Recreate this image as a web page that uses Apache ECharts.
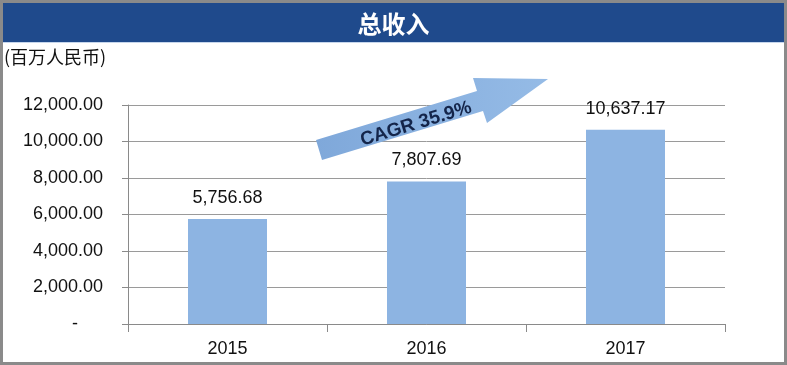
<!DOCTYPE html>
<html><head><meta charset="utf-8">
<script src="https://cdn.jsdelivr.net/npm/echarts@6/dist/echarts.min.js"></script>
<style>html,body{margin:0;padding:0;background:#fff}#c{width:787px;height:365px}</style>
</head><body><div id="c"></div>
<script>
const categories = ['2015', '2016', '2017'];
const revenue = [5756.68, 7807.69, 10637.17];
const yTicks = [0, 2000, 4000, 6000, 8000, 10000, 12000];
const titleText = '总收入';
const unitText = '(百万人民币)';
const cagrText = 'CAGR 35.9%';

function fmt(v) {
  if (v === 0) return '-     ';
  return v.toLocaleString('en-US', {minimumFractionDigits: 2, maximumFractionDigits: 2});
}

const chart = echarts.init(document.getElementById('c'));
chart.setOption({
  animation: false,
  backgroundColor: '#fff',
  title: {
    text: titleText, left: 'center', top: 7,
    textStyle: {color: '#fff', fontSize: 24, fontWeight: 'bold', fontFamily: 'Noto Sans CJK SC'}
  },
  grid: {left: 128, right: 62, top: 105, bottom: 41},
  xAxis: {
    type: 'category', data: categories,
    axisLine: {lineStyle: {color: '#8a8a8a', width: 1}},
    axisTick: {show: true, length: 8, lineStyle: {color: '#8a8a8a'}},
    axisLabel: {color: '#111', fontSize: 18, margin: 16, fontFamily: 'Liberation Sans'}
  },
  yAxis: {
    type: 'value', min: yTicks[0], max: yTicks[yTicks.length - 1], interval: 2000,
    axisLine: {show: true, lineStyle: {color: '#8a8a8a'}},
    axisTick: {show: true, length: 6, lineStyle: {color: '#8a8a8a'}},
    splitLine: {lineStyle: {color: '#9a9a9a', width: 1}},
    axisLabel: {color: '#111', fontSize: 18, margin: 25, fontFamily: 'Liberation Sans', formatter: fmt}
  },
  series: [{
    type: 'bar', data: revenue, barWidth: 79,
    itemStyle: {color: '#8db4e2'},
    label: {show: true, position: 'top', distance: 12, color: '#111', fontSize: 18,
      fontFamily: 'Liberation Sans', formatter: p => fmt(p.value)}
  }],
  graphic: [
    {type: 'rect', z: -1, shape: {x: 0, y: 0, width: 787, height: 365},
      style: {fill: 'none', stroke: '#8a8a8a', lineWidth: 6}},
    {type: 'rect', z: 0, shape: {x: 3, y: 3, width: 781, height: 39},
      style: {fill: '#1f4a8c'}},
    {type: 'rect', z: 0, shape: {x: 3, y: 42, width: 781, height: 1},
      style: {fill: '#c6d6ec'}},
    {type: 'text', left: 4, top: 48, z: 10,
      style: {text: unitText, fontSize: 18, fill: '#111', fontFamily: 'Noto Sans CJK SC'}},
    {type: 'polygon', z: 10,
      shape: {points: [[316,140],[477,91],[473,78],[548,79],[487,123],[483,111],[322,160]]},
      style: {fill: new echarts.graphic.LinearGradient(0, 0, 1, 0, [
        {offset: 0, color: '#7fa8da'}, {offset: 1, color: '#95bbe6'}])}},
    {type: 'text', z: 11, x: 416, y: 124, rotation: 17 * Math.PI / 180,
      style: {text: cagrText, fontSize: 19, fontWeight: 'bold', fill: '#14254a',
        fontFamily: 'Liberation Sans', align: 'center', verticalAlign: 'middle'}}
  ]
});
</script></body></html>
